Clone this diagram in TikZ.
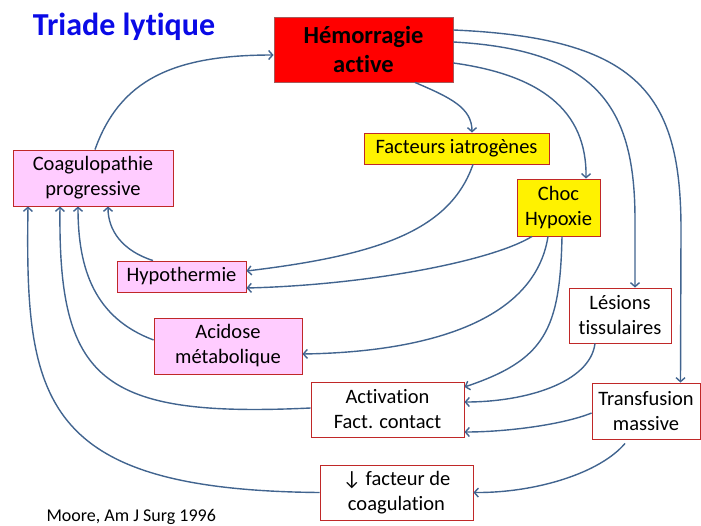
\documentclass[tikz,border=0pt]{standalone}
\usepackage{fontspec}
\setmainfont{Carlito}[Ligatures=CommonOff]
\usetikzlibrary{arrows.meta}
\definecolor{arrc}{RGB}{65,100,143}
\definecolor{bord}{RGB}{192,40,40}
\definecolor{pinkf}{RGB}{255,204,255}
\definecolor{titleblue}{RGB}{10,10,230}
\tikzset{
  box/.style={draw=bord, line width=0.9pt, inner sep=0pt, align=center, font=\fontsize{20.5}{25}\selectfont},
  pinkbox/.style={box, fill=pinkf},
  yelbox/.style={box, fill=yellow},
  whitebox/.style={box, fill=white},
  redbox/.style={draw=gray!70!red, line width=0.9pt, fill=red, inner sep=0pt, align=center, font=\fontsize{24.5}{29}\selectfont\bfseries},
  arr/.style={draw=arrc, line width=1.4pt, -{Straight Barb[length=4pt,width=9pt,line width=1.4pt]}}
}
\begin{document}
\begin{tikzpicture}[x=1pt,y=-1pt]
\useasboundingbox (0,0) rectangle (701,525);
\node[text=titleblue, font=\fontsize{32}{36}\selectfont\bfseries] (title) at (124,27) {Triade lytique};
\node[redbox, minimum width=179pt, minimum height=65pt] (hem) at (363.5,49.5) {Hémorragie\\active};
\node[pinkbox, minimum width=160pt, minimum height=56pt] (coag) at (93,178) {Coagulopathie\\progressive};
\node[yelbox, minimum width=185pt, minimum height=31pt] (fact) at (456.5,148.5) {Facteurs iatrogènes};
\node[yelbox, minimum width=83pt, minimum height=57pt] (choc) at (558.5,207.5) {Choc\\Hypoxie};
\node[pinkbox, minimum width=129pt, minimum height=31pt] (hypo) at (181.5,276.5) {Hypothermie};
\node[pinkbox, minimum width=148pt, minimum height=56pt] (acid) at (228,346) {Acidose\\métabolique};
\node[whitebox, minimum width=102pt, minimum height=55pt] (les) at (620,315.5) {Lésions\\tissulaires};
\node[whitebox, minimum width=153pt, minimum height=55pt] (act) at (387.5,409.5) {Activation\\Fact. contact};
\node[whitebox, minimum width=108pt, minimum height=56pt] (trans) at (646,411) {Transfusion\\massive};
\node[whitebox, minimum width=153pt, minimum height=55pt] (fac) at (396.5,492.5) {↓ facteur de\\coagulation};
\node[anchor=base west, font=\fontsize{18}{20}\selectfont] (moore) at (43,521) {Moore, Am J Surg 1996};

% from Hemorragie
\draw[arr] ([xshift=2pt]coag.north) .. controls +(25,-70) and +(-100,0) .. ([yshift=-5.5pt]hem.west);
\draw[arr] ([xshift=51.5pt]hem.south) .. controls +(35,15) and +(0,-25) .. ([xshift=15.5pt]fact.north);
\draw[arr] ([yshift=-13.5pt]hem.east) .. controls (540,75) and (587,110) .. ([xshift=27.5pt]choc.north);
\draw[arr] ([yshift=7.5pt]hem.east) .. controls (600,50) and (635,110) .. (635,220) -- ([xshift=15pt]les.north);
\draw[arr] ([yshift=19.5pt]hem.east) .. controls (640,38) and (681,95) .. (681,230) -- ([xshift=34.5pt]trans.north);
% to Hypothermie
\draw[arr] ([xshift=16.5pt]fact.south) .. controls (450,230) and (380,255) .. ([yshift=5.5pt]hypo.east);
\draw[arr] ([xshift=-26.5pt]choc.south) .. controls (492,261) and (368,285) .. ([yshift=-11.5pt]hypo.east);
\draw[arr] ([xshift=-10.5pt]choc.south) .. controls (535,320) and (430,352) .. ([yshift=-8pt]acid.east);
\draw[arr] ([xshift=3.5pt]choc.south) .. controls (560,330) and (545,360) .. ([yshift=22.5pt]act.east);
\draw[arr] ([xshift=-25pt]les.south) .. controls (590,383) and (525,402) .. ([yshift=7.5pt]act.east);
\draw[arr] ([yshift=-2pt]trans.west) .. controls (562,425) and (505,432) .. ([yshift=-22.5pt]act.east);
\draw[arr] ([xshift=-21pt,yshift=-4pt]trans.south) .. controls (600,473) and (536,493) .. (fac.east);
% to Coagulopathie
\draw[arr] ([xshift=-28.5pt]hypo.north) .. controls (123,251) and (108,231) .. ([xshift=15pt]coag.south);
\draw[arr] ([yshift=6pt]acid.west) .. controls (95,318) and (78,270) .. ([xshift=-15pt]coag.south);
\draw[arr] ([yshift=1.5pt]act.west) .. controls (100,418) and (58,380) .. ([xshift=-33pt]coag.south);
\draw[arr] (fac.west) .. controls (40,490) and (25,400) .. ([xshift=-65pt]coag.south);
\end{tikzpicture}
\end{document}
